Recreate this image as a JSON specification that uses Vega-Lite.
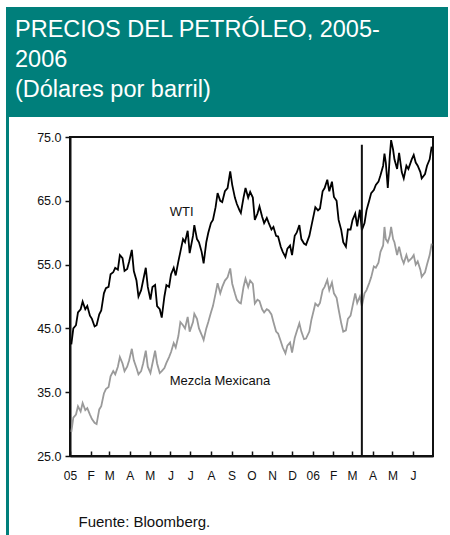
{
  "$schema": "https://vega.github.io/schema/vega-lite/v6.json",
  "background": "white",
  "padding": {"left": 6, "top": 7, "right": 2, "bottom": 0},
  "spacing": 0,
  "config": {"view": {"stroke": null}, "font": "Liberation Sans"},
  "vconcat": [
    {
      "width": 442,
      "height": 110,
      "view": {"fill": "#007f7b", "stroke": null},
      "data": {"values": [
        {"linea": 1, "texto": "PRECIOS DEL PETRÓLEO, 2005-"},
        {"linea": 2, "texto": "2006"},
        {"linea": 3, "texto": "(Dólares por barril)"}
      ]},
      "mark": {"type": "text", "align": "left", "baseline": "middle", "color": "white", "font": "Liberation Sans", "fontSize": 23.5, "dx": 9},
      "encoding": {
        "x": {"datum": 0, "type": "quantitative", "scale": {"domain": [0, 1]}, "axis": null},
        "y": {"field": "linea", "type": "quantitative", "scale": {"domain": [0.2333, 3.9], "reverse": true, "zero": false, "nice": false}, "axis": null},
        "text": {"field": "texto"}
      }
    },
    {
      "spacing": 26,
      "hconcat": [
        {
          "width": 3,
          "height": 418,
          "view": {"fill": "#007f7b", "stroke": null},
          "data": {"values": [{"borde": 1}]},
          "mark": {"type": "rect", "color": "#007f7b"},
          "encoding": {}
        },
        {
          "spacing": 0,
          "vconcat": [
            {
              "width": 363,
              "height": 13,
              "view": {"stroke": null},
              "data": {"values": []},
              "mark": {"type": "point", "opacity": 0},
              "encoding": {}
            },
            {
              "width": 363,
              "height": 319,
              "view": {"stroke": "#111111", "strokeWidth": 2},
              "encoding": {
                "x": {
                  "field": "fecha", "type": "temporal",
                  "scale": {"type": "utc", "domain": [{"year": 2005, "month": 1, "date": 1, "utc": true}, {"year": 2006, "month": 7, "date": 1, "utc": true}]},
                  "axis": {
                    "values": [
                      {"year": 2005, "month": 1, "date": 1, "utc": true},
                      {"year": 2005, "month": 2, "date": 1, "utc": true},
                      {"year": 2005, "month": 3, "date": 1, "utc": true},
                      {"year": 2005, "month": 4, "date": 1, "utc": true},
                      {"year": 2005, "month": 5, "date": 1, "utc": true},
                      {"year": 2005, "month": 6, "date": 1, "utc": true},
                      {"year": 2005, "month": 7, "date": 1, "utc": true},
                      {"year": 2005, "month": 8, "date": 1, "utc": true},
                      {"year": 2005, "month": 9, "date": 1, "utc": true},
                      {"year": 2005, "month": 10, "date": 1, "utc": true},
                      {"year": 2005, "month": 11, "date": 1, "utc": true},
                      {"year": 2005, "month": 12, "date": 1, "utc": true},
                      {"year": 2006, "month": 1, "date": 1, "utc": true},
                      {"year": 2006, "month": 2, "date": 1, "utc": true},
                      {"year": 2006, "month": 3, "date": 1, "utc": true},
                      {"year": 2006, "month": 4, "date": 1, "utc": true},
                      {"year": 2006, "month": 5, "date": 1, "utc": true},
                      {"year": 2006, "month": 6, "date": 1, "utc": true}
                    ],
                    "labelExpr": "utcmonth(datum.value) == 0 ? utcFormat(datum.value, '%y') : ['E','F','M','A','M','J','J','A','S','O','N','D'][utcmonth(datum.value)]",
                    "title": "Fuente:  Bloomberg.",
                    "titleAnchor": "start", "titleAlign": "left", "titleBaseline": "middle",
                    "titleX": 8, "titleY": 65,
                    "titleFont": "Liberation Sans", "titleFontSize": 15, "titleFontWeight": "normal", "titleColor": "#111111",
                    "labelFont": "Liberation Sans", "labelFontSize": 12, "labelColor": "#111111",
                    "labelPadding": 19, "labelFlush": false, "labelOverlap": false, "labelSeparation": 0,
                    "tickSize": -5, "tickWidth": 1.5, "tickColor": "#111111",
                    "domainColor": "#111111", "domainWidth": 2, "grid": false
                  }
                },
                "y": {
                  "field": "valor", "type": "quantitative",
                  "scale": {"domain": [25, 75], "nice": false, "zero": false},
                  "axis": {
                    "values": [25, 35, 45, 55, 65, 75], "format": ".1f", "title": null,
                    "labelFont": "Liberation Sans", "labelFontSize": 12.5, "labelColor": "#111111", "labelPadding": 4,
                    "tickSize": 5, "tickWidth": 1.5, "tickColor": "#111111",
                    "domainColor": "#111111", "domainWidth": 2, "grid": false
                  }
                }
              },
              "layer": [
                {
                  "data": {"values": [
                    {"fecha": "2005-01-03", "WTI": 42.5, "Mezcla Mexicana": 28.8},
                    {"fecha": "2005-01-06", "WTI": 45.0, "Mezcla Mexicana": 31.0},
                    {"fecha": "2005-01-10", "WTI": 45.5, "Mezcla Mexicana": 31.5},
                    {"fecha": "2005-01-13", "WTI": 47.5, "Mezcla Mexicana": 32.8},
                    {"fecha": "2005-01-17", "WTI": 48.0, "Mezcla Mexicana": 32.0},
                    {"fecha": "2005-01-20", "WTI": 49.2, "Mezcla Mexicana": 33.3},
                    {"fecha": "2005-01-24", "WTI": 48.0, "Mezcla Mexicana": 32.2},
                    {"fecha": "2005-01-27", "WTI": 48.5, "Mezcla Mexicana": 32.5},
                    {"fecha": "2005-01-31", "WTI": 47.0, "Mezcla Mexicana": 31.5},
                    {"fecha": "2005-02-03", "WTI": 46.5, "Mezcla Mexicana": 30.8},
                    {"fecha": "2005-02-07", "WTI": 45.3, "Mezcla Mexicana": 30.2},
                    {"fecha": "2005-02-10", "WTI": 45.5, "Mezcla Mexicana": 30.0},
                    {"fecha": "2005-02-14", "WTI": 47.2, "Mezcla Mexicana": 32.3},
                    {"fecha": "2005-02-17", "WTI": 47.8, "Mezcla Mexicana": 32.8},
                    {"fecha": "2005-02-21", "WTI": 50.5, "Mezcla Mexicana": 34.8},
                    {"fecha": "2005-02-24", "WTI": 51.3, "Mezcla Mexicana": 35.5},
                    {"fecha": "2005-02-28", "WTI": 51.5, "Mezcla Mexicana": 35.8},
                    {"fecha": "2005-03-03", "WTI": 53.5, "Mezcla Mexicana": 37.5},
                    {"fecha": "2005-03-07", "WTI": 53.8, "Mezcla Mexicana": 38.3},
                    {"fecha": "2005-03-10", "WTI": 54.5, "Mezcla Mexicana": 37.8},
                    {"fecha": "2005-03-14", "WTI": 54.2, "Mezcla Mexicana": 39.0},
                    {"fecha": "2005-03-17", "WTI": 56.5, "Mezcla Mexicana": 40.5},
                    {"fecha": "2005-03-21", "WTI": 56.0, "Mezcla Mexicana": 39.5},
                    {"fecha": "2005-03-24", "WTI": 54.0, "Mezcla Mexicana": 38.3},
                    {"fecha": "2005-03-28", "WTI": 54.3, "Mezcla Mexicana": 39.0},
                    {"fecha": "2005-03-31", "WTI": 55.5, "Mezcla Mexicana": 40.0},
                    {"fecha": "2005-04-04", "WTI": 57.3, "Mezcla Mexicana": 41.8},
                    {"fecha": "2005-04-07", "WTI": 54.0, "Mezcla Mexicana": 40.0},
                    {"fecha": "2005-04-11", "WTI": 52.5, "Mezcla Mexicana": 38.8},
                    {"fecha": "2005-04-14", "WTI": 50.0, "Mezcla Mexicana": 37.8},
                    {"fecha": "2005-04-18", "WTI": 51.0, "Mezcla Mexicana": 38.3},
                    {"fecha": "2005-04-21", "WTI": 52.5, "Mezcla Mexicana": 39.5},
                    {"fecha": "2005-04-25", "WTI": 54.5, "Mezcla Mexicana": 41.5},
                    {"fecha": "2005-04-28", "WTI": 51.5, "Mezcla Mexicana": 39.0},
                    {"fecha": "2005-05-02", "WTI": 49.5, "Mezcla Mexicana": 38.0},
                    {"fecha": "2005-05-05", "WTI": 51.5, "Mezcla Mexicana": 39.5},
                    {"fecha": "2005-05-09", "WTI": 51.8, "Mezcla Mexicana": 41.5},
                    {"fecha": "2005-05-12", "WTI": 48.5, "Mezcla Mexicana": 39.5},
                    {"fecha": "2005-05-16", "WTI": 48.0, "Mezcla Mexicana": 38.0},
                    {"fecha": "2005-05-19", "WTI": 46.7, "Mezcla Mexicana": 38.3},
                    {"fecha": "2005-05-23", "WTI": 50.0, "Mezcla Mexicana": 38.8},
                    {"fecha": "2005-05-26", "WTI": 51.8, "Mezcla Mexicana": 39.6},
                    {"fecha": "2005-05-30", "WTI": 51.5, "Mezcla Mexicana": 40.5},
                    {"fecha": "2005-06-02", "WTI": 53.5, "Mezcla Mexicana": 41.3},
                    {"fecha": "2005-06-06", "WTI": 54.5, "Mezcla Mexicana": 42.7},
                    {"fecha": "2005-06-09", "WTI": 53.3, "Mezcla Mexicana": 42.0},
                    {"fecha": "2005-06-13", "WTI": 55.5, "Mezcla Mexicana": 43.8},
                    {"fecha": "2005-06-16", "WTI": 57.0, "Mezcla Mexicana": 46.0},
                    {"fecha": "2005-06-20", "WTI": 59.0, "Mezcla Mexicana": 45.5},
                    {"fecha": "2005-06-23", "WTI": 58.5, "Mezcla Mexicana": 45.0},
                    {"fecha": "2005-06-27", "WTI": 60.3, "Mezcla Mexicana": 46.8},
                    {"fecha": "2005-06-30", "WTI": 56.8, "Mezcla Mexicana": 44.5},
                    {"fecha": "2005-07-05", "WTI": 59.5, "Mezcla Mexicana": 46.0},
                    {"fecha": "2005-07-07", "WTI": 61.2, "Mezcla Mexicana": 47.3},
                    {"fecha": "2005-07-11", "WTI": 59.0, "Mezcla Mexicana": 46.5},
                    {"fecha": "2005-07-14", "WTI": 58.5, "Mezcla Mexicana": 45.0},
                    {"fecha": "2005-07-18", "WTI": 57.0, "Mezcla Mexicana": 44.0},
                    {"fecha": "2005-07-21", "WTI": 55.2, "Mezcla Mexicana": 43.2},
                    {"fecha": "2005-07-25", "WTI": 58.5, "Mezcla Mexicana": 45.0},
                    {"fecha": "2005-07-28", "WTI": 60.0, "Mezcla Mexicana": 46.0},
                    {"fecha": "2005-08-01", "WTI": 61.5, "Mezcla Mexicana": 47.5},
                    {"fecha": "2005-08-04", "WTI": 62.0, "Mezcla Mexicana": 48.5},
                    {"fecha": "2005-08-08", "WTI": 64.0, "Mezcla Mexicana": 50.5},
                    {"fecha": "2005-08-11", "WTI": 66.2, "Mezcla Mexicana": 52.1},
                    {"fecha": "2005-08-15", "WTI": 65.0, "Mezcla Mexicana": 50.5},
                    {"fecha": "2005-08-18", "WTI": 64.8, "Mezcla Mexicana": 51.5},
                    {"fecha": "2005-08-22", "WTI": 66.5, "Mezcla Mexicana": 52.5},
                    {"fecha": "2005-08-26", "WTI": 67.0, "Mezcla Mexicana": 53.0},
                    {"fecha": "2005-08-30", "WTI": 69.6, "Mezcla Mexicana": 54.4},
                    {"fecha": "2005-09-02", "WTI": 67.5, "Mezcla Mexicana": 52.0},
                    {"fecha": "2005-09-06", "WTI": 65.5, "Mezcla Mexicana": 50.5},
                    {"fecha": "2005-09-09", "WTI": 64.5, "Mezcla Mexicana": 49.5},
                    {"fecha": "2005-09-13", "WTI": 63.5, "Mezcla Mexicana": 49.0},
                    {"fecha": "2005-09-15", "WTI": 63.1, "Mezcla Mexicana": 48.9},
                    {"fecha": "2005-09-19", "WTI": 65.5, "Mezcla Mexicana": 51.5},
                    {"fecha": "2005-09-22", "WTI": 67.0, "Mezcla Mexicana": 52.8},
                    {"fecha": "2005-09-26", "WTI": 65.5, "Mezcla Mexicana": 51.5},
                    {"fecha": "2005-09-29", "WTI": 66.4, "Mezcla Mexicana": 52.5},
                    {"fecha": "2005-10-03", "WTI": 65.5, "Mezcla Mexicana": 52.0},
                    {"fecha": "2005-10-06", "WTI": 62.0, "Mezcla Mexicana": 48.9},
                    {"fecha": "2005-10-10", "WTI": 63.0, "Mezcla Mexicana": 49.5},
                    {"fecha": "2005-10-13", "WTI": 64.1, "Mezcla Mexicana": 49.3},
                    {"fecha": "2005-10-17", "WTI": 62.5, "Mezcla Mexicana": 48.0},
                    {"fecha": "2005-10-20", "WTI": 61.5, "Mezcla Mexicana": 47.5},
                    {"fecha": "2005-10-24", "WTI": 62.3, "Mezcla Mexicana": 48.0},
                    {"fecha": "2005-10-27", "WTI": 61.5, "Mezcla Mexicana": 47.8},
                    {"fecha": "2005-10-31", "WTI": 60.5, "Mezcla Mexicana": 47.2},
                    {"fecha": "2005-11-03", "WTI": 60.9, "Mezcla Mexicana": 46.0},
                    {"fecha": "2005-11-07", "WTI": 59.5, "Mezcla Mexicana": 44.5},
                    {"fecha": "2005-11-10", "WTI": 59.4, "Mezcla Mexicana": 44.2},
                    {"fecha": "2005-11-14", "WTI": 57.8, "Mezcla Mexicana": 43.0},
                    {"fecha": "2005-11-17", "WTI": 57.0, "Mezcla Mexicana": 42.0},
                    {"fecha": "2005-11-21", "WTI": 56.2, "Mezcla Mexicana": 41.1},
                    {"fecha": "2005-11-24", "WTI": 57.5, "Mezcla Mexicana": 42.3},
                    {"fecha": "2005-11-28", "WTI": 58.0, "Mezcla Mexicana": 42.8},
                    {"fecha": "2005-12-01", "WTI": 56.5, "Mezcla Mexicana": 41.2},
                    {"fecha": "2005-12-05", "WTI": 59.5, "Mezcla Mexicana": 43.5},
                    {"fecha": "2005-12-08", "WTI": 60.0, "Mezcla Mexicana": 44.5},
                    {"fecha": "2005-12-12", "WTI": 61.2, "Mezcla Mexicana": 45.8},
                    {"fecha": "2005-12-15", "WTI": 59.0, "Mezcla Mexicana": 44.5},
                    {"fecha": "2005-12-19", "WTI": 58.3, "Mezcla Mexicana": 43.3},
                    {"fecha": "2005-12-22", "WTI": 58.1, "Mezcla Mexicana": 43.4},
                    {"fecha": "2005-12-27", "WTI": 59.5, "Mezcla Mexicana": 44.5},
                    {"fecha": "2005-12-30", "WTI": 61.0, "Mezcla Mexicana": 46.3},
                    {"fecha": "2006-01-03", "WTI": 63.0, "Mezcla Mexicana": 48.0},
                    {"fecha": "2006-01-05", "WTI": 64.0, "Mezcla Mexicana": 48.9},
                    {"fecha": "2006-01-09", "WTI": 63.5, "Mezcla Mexicana": 48.5},
                    {"fecha": "2006-01-12", "WTI": 63.8, "Mezcla Mexicana": 49.0},
                    {"fecha": "2006-01-16", "WTI": 66.5, "Mezcla Mexicana": 51.0},
                    {"fecha": "2006-01-19", "WTI": 67.0, "Mezcla Mexicana": 51.5},
                    {"fecha": "2006-01-23", "WTI": 68.3, "Mezcla Mexicana": 52.6},
                    {"fecha": "2006-01-26", "WTI": 66.5, "Mezcla Mexicana": 51.0},
                    {"fecha": "2006-01-30", "WTI": 68.0, "Mezcla Mexicana": 52.2},
                    {"fecha": "2006-02-02", "WTI": 65.6, "Mezcla Mexicana": 50.5},
                    {"fecha": "2006-02-06", "WTI": 65.0, "Mezcla Mexicana": 49.8},
                    {"fecha": "2006-02-09", "WTI": 62.0, "Mezcla Mexicana": 48.0},
                    {"fecha": "2006-02-13", "WTI": 60.4, "Mezcla Mexicana": 45.8},
                    {"fecha": "2006-02-16", "WTI": 58.5, "Mezcla Mexicana": 44.5},
                    {"fecha": "2006-02-20", "WTI": 57.8, "Mezcla Mexicana": 44.7},
                    {"fecha": "2006-02-23", "WTI": 60.5, "Mezcla Mexicana": 46.5},
                    {"fecha": "2006-02-27", "WTI": 60.5, "Mezcla Mexicana": 47.0},
                    {"fecha": "2006-03-02", "WTI": 62.0, "Mezcla Mexicana": 48.5},
                    {"fecha": "2006-03-06", "WTI": 63.0, "Mezcla Mexicana": 50.5},
                    {"fecha": "2006-03-09", "WTI": 61.0, "Mezcla Mexicana": 49.0},
                    {"fecha": "2006-03-13", "WTI": 63.6, "Mezcla Mexicana": 50.0},
                    {"fecha": "2006-03-16", "WTI": 60.4, "Mezcla Mexicana": 48.5},
                    {"fecha": "2006-03-20", "WTI": 61.5, "Mezcla Mexicana": 50.5},
                    {"fecha": "2006-03-23", "WTI": 63.5, "Mezcla Mexicana": 51.0},
                    {"fecha": "2006-03-27", "WTI": 65.0, "Mezcla Mexicana": 52.1},
                    {"fecha": "2006-03-30", "WTI": 66.2, "Mezcla Mexicana": 53.0},
                    {"fecha": "2006-04-03", "WTI": 66.7, "Mezcla Mexicana": 54.7},
                    {"fecha": "2006-04-06", "WTI": 67.5, "Mezcla Mexicana": 54.5},
                    {"fecha": "2006-04-10", "WTI": 68.0, "Mezcla Mexicana": 55.3},
                    {"fecha": "2006-04-13", "WTI": 69.0, "Mezcla Mexicana": 57.0},
                    {"fecha": "2006-04-17", "WTI": 70.5, "Mezcla Mexicana": 58.0},
                    {"fecha": "2006-04-19", "WTI": 72.4, "Mezcla Mexicana": 60.9},
                    {"fecha": "2006-04-21", "WTI": 71.0, "Mezcla Mexicana": 59.0},
                    {"fecha": "2006-04-24", "WTI": 67.0, "Mezcla Mexicana": 58.5},
                    {"fecha": "2006-04-27", "WTI": 72.0, "Mezcla Mexicana": 59.5},
                    {"fecha": "2006-04-29", "WTI": 74.5, "Mezcla Mexicana": 60.9},
                    {"fecha": "2006-05-02", "WTI": 73.0, "Mezcla Mexicana": 59.0},
                    {"fecha": "2006-05-04", "WTI": 71.5, "Mezcla Mexicana": 58.5},
                    {"fecha": "2006-05-08", "WTI": 70.0, "Mezcla Mexicana": 56.5},
                    {"fecha": "2006-05-11", "WTI": 72.5, "Mezcla Mexicana": 57.8},
                    {"fecha": "2006-05-15", "WTI": 69.5, "Mezcla Mexicana": 56.0},
                    {"fecha": "2006-05-18", "WTI": 68.5, "Mezcla Mexicana": 55.2},
                    {"fecha": "2006-05-22", "WTI": 70.5, "Mezcla Mexicana": 56.5},
                    {"fecha": "2006-05-25", "WTI": 70.0, "Mezcla Mexicana": 55.5},
                    {"fecha": "2006-05-30", "WTI": 71.5, "Mezcla Mexicana": 56.0},
                    {"fecha": "2006-06-02", "WTI": 72.2, "Mezcla Mexicana": 56.5},
                    {"fecha": "2006-06-05", "WTI": 71.0, "Mezcla Mexicana": 55.0},
                    {"fecha": "2006-06-08", "WTI": 70.5, "Mezcla Mexicana": 55.5},
                    {"fecha": "2006-06-12", "WTI": 69.5, "Mezcla Mexicana": 54.2},
                    {"fecha": "2006-06-14", "WTI": 68.5, "Mezcla Mexicana": 53.1},
                    {"fecha": "2006-06-19", "WTI": 69.2, "Mezcla Mexicana": 53.8},
                    {"fecha": "2006-06-22", "WTI": 70.5, "Mezcla Mexicana": 55.0},
                    {"fecha": "2006-06-26", "WTI": 71.5, "Mezcla Mexicana": 56.5},
                    {"fecha": "2006-06-29", "WTI": 73.5, "Mezcla Mexicana": 58.3}
                  ]},
                  "transform": [{"fold": ["WTI", "Mezcla Mexicana"], "as": ["serie", "valor"]}],
                  "mark": {"type": "line", "strokeWidth": 1.8},
                  "encoding": {
                    "color": {"field": "serie", "type": "nominal", "scale": {"domain": ["WTI", "Mezcla Mexicana"], "range": ["#000000", "#9a9a9a"]}, "legend": null}
                  }
                },
                {
                  "data": {"values": [{"fecha": "2006-03-16", "valor": 25, "hasta": 73.8}]},
                  "mark": {"type": "rule", "color": "#111111", "strokeWidth": 2},
                  "encoding": {
                    "y2": {"field": "hasta"}
                  }
                },
                {
                  "data": {"values": [
                    {"fecha": "2005-05-31", "valor": 63.2, "etiqueta": "WTI"},
                    {"fecha": "2005-05-31", "valor": 36.8, "etiqueta": "Mezcla Mexicana"}
                  ]},
                  "mark": {"type": "text", "align": "left", "baseline": "middle", "font": "Liberation Sans", "fontSize": 13, "color": "#111111"},
                  "encoding": {
                    "text": {"field": "etiqueta"}
                  }
                }
              ]
            }
          ]
        }
      ]
    }
  ]
}
